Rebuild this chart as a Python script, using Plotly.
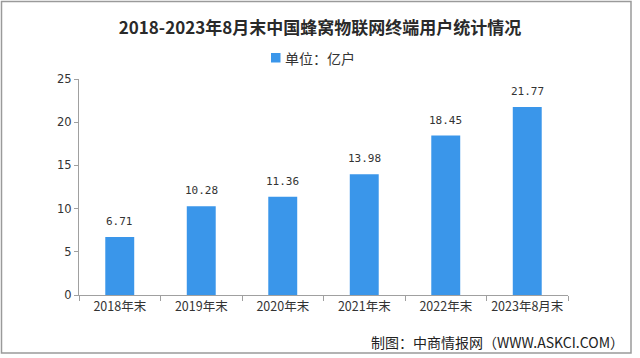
import plotly.graph_objects as go

categories = ["2018年末", "2019年末", "2020年末", "2021年末", "2022年末", "2023年8月末"]
values = [6.71, 10.28, 11.36, 13.98, 18.45, 21.77]
value_labels = ["6.71", "10.28", "11.36", "13.98", "18.45", "21.77"]
y_ticks = [0, 5, 10, 15, 20, 25]
series_name = "单位：亿户"

W, H = 640, 358
L, R, T, B = 79, 72, 79, 63
pw, ph = W - L - R, H - T - B
BAR_COLOR = "#3a96ea"


def px_x(px):
    return (px - L) / pw


def px_y(py):
    return (H - B - py) / ph


fig = go.Figure()
fig.add_trace(go.Bar(
    x=categories, y=values, name=series_name,
    marker=dict(color=BAR_COLOR, line=dict(width=0)),
    showlegend=False, hoverinfo="skip",
))

for c, v, t in zip(categories, values, value_labels):
    fig.add_annotation(x=c, y=v, text=t, showarrow=False, yanchor="bottom", yshift=7,
                       font=dict(size=11, color="#333333", family="DejaVu Sans Mono"))

fig.update_layout(
    width=W, height=H,
    margin=dict(l=L, r=R, t=T, b=B, autoexpand=False),
    paper_bgcolor="white", plot_bgcolor="white",
    bargap=0.645,
    title=dict(text="<b>2018-2023年8月末中国蜂窝物联网终端用户统计情况</b>",
               x=0.5, xanchor="center", xref="container", y=1 - 28 / H, yanchor="middle",
               font=dict(size=17, color="#2a2a2a", family="Noto Sans CJK SC")),
    showlegend=False,
    xaxis=dict(showline=True, linecolor="#a0a0a0", linewidth=1,
               ticks="outside", ticklen=5, tickcolor="#a0a0a0",
               tickson="boundaries", tickangle=0,
               tickfont=dict(size=12.5, color="#333333", family="Noto Sans CJK SC"),
               showgrid=False),
    yaxis=dict(range=[0, 25], tickvals=y_ticks, showline=True, linecolor="#a0a0a0", linewidth=1,
               ticks="outside", ticklen=4, tickcolor="#a0a0a0",
               tickfont=dict(size=11.5, color="#333333", family="DejaVu Sans"),
               showgrid=False, zeroline=False),
    font=dict(family="Noto Sans CJK SC"),
)

# manual legend
fig.add_shape(type="rect", xref="paper", yref="paper",
              x0=px_x(271), x1=px_x(280.5), y0=px_y(62.5), y1=px_y(53),
              line=dict(width=0), fillcolor=BAR_COLOR)
fig.add_annotation(text=series_name, xref="paper", yref="paper",
                   x=px_x(283), xanchor="left", y=px_y(57.5), yanchor="middle",
                   showarrow=False, font=dict(size=14, color="#333333", family="Noto Sans CJK SC"))

fig.add_annotation(text="制图：中商情报网（WWW.ASKCI.COM）", xref="paper", yref="paper",
                   x=px_x(626), xanchor="right", y=px_y(341.5), yanchor="middle",
                   showarrow=False, font=dict(size=14, color="#222222", family="Noto Sans CJK SC"))

fig.add_shape(type="rect", xref="paper", yref="paper",
              x0=px_x(1.5), x1=px_x(631), y0=px_y(353), y1=px_y(1.5),
              line=dict(color="#9a9a9a", width=1.5), fillcolor="rgba(0,0,0,0)")

fig.write_html("out.html", config={"displayModeBar": False},
               post_script="document.body.style.margin='0px';document.body.style.overflow='hidden';")
